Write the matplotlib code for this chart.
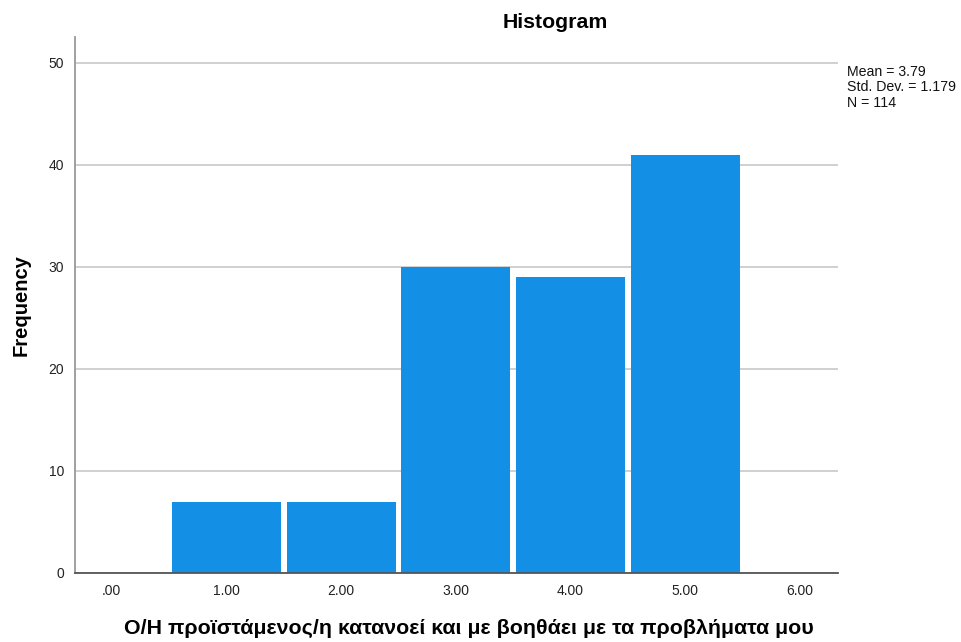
import matplotlib
matplotlib.use("Agg")
import matplotlib.pyplot as plt

plt.rcParams['font.family'] = ['Liberation Sans', 'DejaVu Sans']

# histogram values
bins = [0, 1, 2, 3, 4, 5, 6]
tick_labels = [".00", "1.00", "2.00", "3.00", "4.00", "5.00", "6.00"]
counts = [0, 7, 7, 30, 29, 41, 0]
y_ticks = [0, 10, 20, 30, 40, 50]
stats_text = "Mean = 3.79\nStd. Dev. = 1.179\nN = 114"
x_title = "Ο/Η προϊστάμενος/η κατανοεί και με βοηθάει με τα προβλήματα μου"

fig = plt.figure(figsize=(9.62, 6.42), dpi=100)
ax = fig.add_axes([0.078, 0.1075, 0.793, 0.8345])

ax.bar(bins, counts, width=0.95, color="#1390E6", linewidth=0, zorder=3)

ax.set_xlim(-0.32, 6.33)
ax.set_ylim(0, 52.5)
ax.set_xticks(bins)
ax.set_xticklabels(tick_labels)
ax.set_yticks(y_ticks)
ax.tick_params(length=0, labelsize=10, colors="#222222", pad=8)
ax.tick_params(axis='x', pad=8)

ax.grid(axis='y', color="#CDCDCD", linewidth=1.3, zorder=0)
for s in ["top", "right"]:
    ax.spines[s].set_visible(False)
ax.spines["left"].set_color("#999999")
ax.spines["left"].set_linewidth(1.3)
ax.spines["bottom"].set_color("#555555")
ax.spines["bottom"].set_linewidth(1.3)
ax.spines["bottom"].set_zorder(4)

ax.set_title("Histogram", fontsize=15.3, fontweight="bold", x=0.629, pad=7)
ax.set_ylabel("Frequency", fontsize=14.5, fontweight="bold", labelpad=13)
ax.set_xlabel(x_title, fontsize=15.4, fontweight="bold", labelpad=12)
ax.xaxis.set_label_coords(0.516, -0.085)

fig.text(0.880, 0.899, stats_text, fontsize=10.2, va="top", ha="left",
         linespacing=1.13, color="#111111")

fig.savefig("out.png", dpi=100)
